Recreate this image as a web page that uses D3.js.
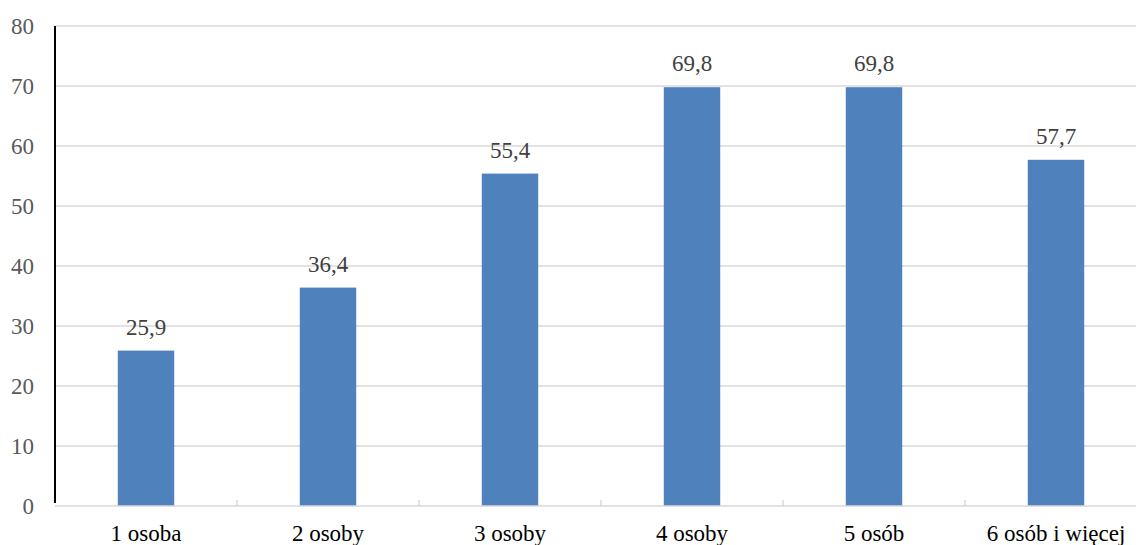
<!DOCTYPE html>
<html>
<head>
<meta charset="utf-8">
<script src="https://cdn.jsdelivr.net/npm/d3@7"></script>
<style>
  body { margin: 0; background: #fff; }
  svg { display: block; }
  svg text { font-family: "Liberation Serif", "Times New Roman", Times, serif; }
</style>
</head>
<body>
<svg id="chart"></svg>
<script>
const categories = ["1 osoba", "2 osoby", "3 osoby", "4 osoby", "5 osób", "6 osób i więcej"];
const values = [25.9, 36.4, 55.4, 69.8, 69.8, 57.7];
const yTicks = [0, 10, 20, 30, 40, 50, 60, 70, 80];

const width = 1136, height = 545;
const margin = { top: 26, right: -11, bottom: 39, left: 55 };

const svg = d3.select("#chart")
    .attr("width", width)
    .attr("height", height);

const x = d3.scaleBand()
    .domain(categories)
    .range([margin.left, width - margin.right])
    .paddingInner(0.69)
    .paddingOuter(0.345);

const y = d3.scaleLinear()
    .domain([0, 80])
    .range([height - margin.bottom, margin.top]);

// Gridlines
svg.append("g")
    .selectAll("line")
    .data(yTicks.filter(d => d > 0))
    .join("line")
    .attr("x1", margin.left)
    .attr("x2", width)
    .attr("y1", d => y(d))
    .attr("y2", d => y(d))
    .attr("stroke", "#d9d9d9")
    .attr("stroke-width", 1.5);

// Bars
svg.append("g")
    .selectAll("rect")
    .data(values)
    .join("rect")
    .attr("x", (d, i) => x(categories[i]))
    .attr("y", d => y(d))
    .attr("width", x.bandwidth())
    .attr("height", d => y(0) - y(d))
    .attr("fill", "#4f81bd");

// Value labels
svg.append("g")
    .selectAll("text")
    .data(values)
    .join("text")
    .attr("x", (d, i) => x(categories[i]) + x.bandwidth() / 2)
    .attr("y", d => y(d) - 16)
    .attr("text-anchor", "middle")
    .attr("font-size", 23)
    .attr("fill", "#404040")
    .text(d => d.toFixed(1).replace(".", ","));

// X axis baseline + ticks between categories
const step = x.step();
svg.append("line")
    .attr("x1", margin.left)
    .attr("x2", width)
    .attr("y1", y(0))
    .attr("y2", y(0))
    .attr("stroke", "#d9d9d9")
    .attr("stroke-width", 1.5);

svg.append("g")
    .selectAll("line")
    .data(categories.slice(1))
    .join("line")
    .attr("x1", d => x(d) - step * 0.345)
    .attr("x2", d => x(d) - step * 0.345)
    .attr("y1", y(0))
    .attr("y2", y(0) - 6)
    .attr("stroke", "#d9d9d9")
    .attr("stroke-width", 1.5);

// X labels
svg.append("g")
    .selectAll("text")
    .data(categories)
    .join("text")
    .attr("x", d => x(d) + x.bandwidth() / 2)
    .attr("y", height - 4)
    .attr("text-anchor", "middle")
    .attr("font-size", 23)
    .attr("fill", "#000")
    .text(d => d);

// Y axis labels
svg.append("g")
    .selectAll("text")
    .data(yTicks)
    .join("text")
    .attr("x", 34)
    .attr("y", d => y(d))
    .attr("dy", "0.35em")
    .attr("text-anchor", "end")
    .attr("font-size", 23)
    .attr("fill", "#595959")
    .text(d => d);

// Y axis line
svg.append("line")
    .attr("x1", margin.left)
    .attr("x2", margin.left)
    .attr("y1", y(80))
    .attr("y2", y(0) - 3)
    .attr("stroke", "#000")
    .attr("stroke-width", 2);
</script>
</body>
</html>
